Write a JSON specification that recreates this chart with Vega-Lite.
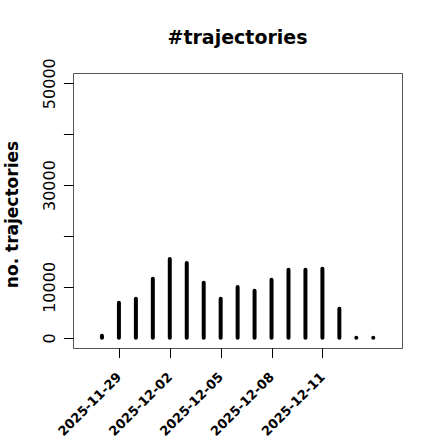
{
  "$schema": "https://vega.github.io/schema/vega-lite/v6.json",
  "autosize": "none",
  "width": 329,
  "height": 275,
  "padding": {"left": 73, "top": 73, "right": 38, "bottom": 92},
  "background": "white",
  "title": {
    "text": "#trajectories",
    "font": "DejaVu Sans",
    "fontSize": 19,
    "fontWeight": "bold",
    "color": "black",
    "anchor": "middle",
    "offset": 10
  },
  "config": {
    "view": {"stroke": "#555", "strokeWidth": 1},
    "axis": {"grid": false}
  },
  "data": {
    "values": [
      {"date": "2025-11-28", "n": 400},
      {"date": "2025-11-29", "n": 6880},
      {"date": "2025-11-30", "n": 7660},
      {"date": "2025-12-01", "n": 11590},
      {"date": "2025-12-02", "n": 15460},
      {"date": "2025-12-03", "n": 14680},
      {"date": "2025-12-04", "n": 10800},
      {"date": "2025-12-05", "n": 7660},
      {"date": "2025-12-06", "n": 9960},
      {"date": "2025-12-07", "n": 9230},
      {"date": "2025-12-08", "n": 11400},
      {"date": "2025-12-09", "n": 13360},
      {"date": "2025-12-10", "n": 13360},
      {"date": "2025-12-11", "n": 13550},
      {"date": "2025-12-12", "n": 5700},
      {"date": "2025-12-13", "n": 0},
      {"date": "2025-12-14", "n": 0}
    ]
  },
  "mark": {"type": "rule", "strokeWidth": 4, "strokeCap": "round", "color": "black"},
  "encoding": {
    "x": {
      "field": "date",
      "type": "temporal",
      "scale": {
        "type": "utc",
        "domain": [
          {"year": 2025, "month": 11, "date": 26, "hours": 7, "minutes": 0, "utc": true},
          {"year": 2025, "month": 12, "date": 15, "hours": 16, "minutes": 40, "utc": true}
        ]
      },
      "axis": {
        "title": null,
        "domain": false,
        "values": [
          {"year": 2025, "month": 11, "date": 29, "utc": true},
          {"year": 2025, "month": 12, "date": 2, "utc": true},
          {"year": 2025, "month": 12, "date": 5, "utc": true},
          {"year": 2025, "month": 12, "date": 8, "utc": true},
          {"year": 2025, "month": 12, "date": 11, "utc": true}
        ],
        "labelExpr": "utcFormat(datum.value, '%Y-%m-%d')",
        "labelAngle": -45,
        "labelAlign": "right",
        "labelBaseline": "middle",
        "labelOverlap": false,
        "labelFont": "DejaVu Sans",
        "labelFontSize": 13,
        "labelFontWeight": "bold",
        "labelColor": "black",
        "labelPadding": 17,
        "tickSize": 9.6,
        "tickColor": "black"
      }
    },
    "y": {
      "field": "n",
      "type": "quantitative",
      "scale": {"domain": [-2000, 52000], "nice": false, "zero": false},
      "axis": {
        "title": "no. trajectories",
        "titleFont": "DejaVu Sans",
        "titleFontSize": 17,
        "titleFontWeight": "bold",
        "titleColor": "black",
        "titlePadding": 20,
        "titleY": 141,
        "domain": false,
        "values": [0, 10000, 20000, 30000, 40000, 50000],
        "labelExpr": "(datum.value == 20000 || datum.value == 40000) ? '' : format(datum.value, 'd')",
        "labelAngle": -90,
        "labelOverlap": false,
        "labelFont": "DejaVu Sans",
        "labelFontSize": 16,
        "labelColor": "black",
        "labelPadding": 6,
        "tickSize": 9.6,
        "tickColor": "black"
      }
    },
    "y2": {"datum": 0}
  }
}
